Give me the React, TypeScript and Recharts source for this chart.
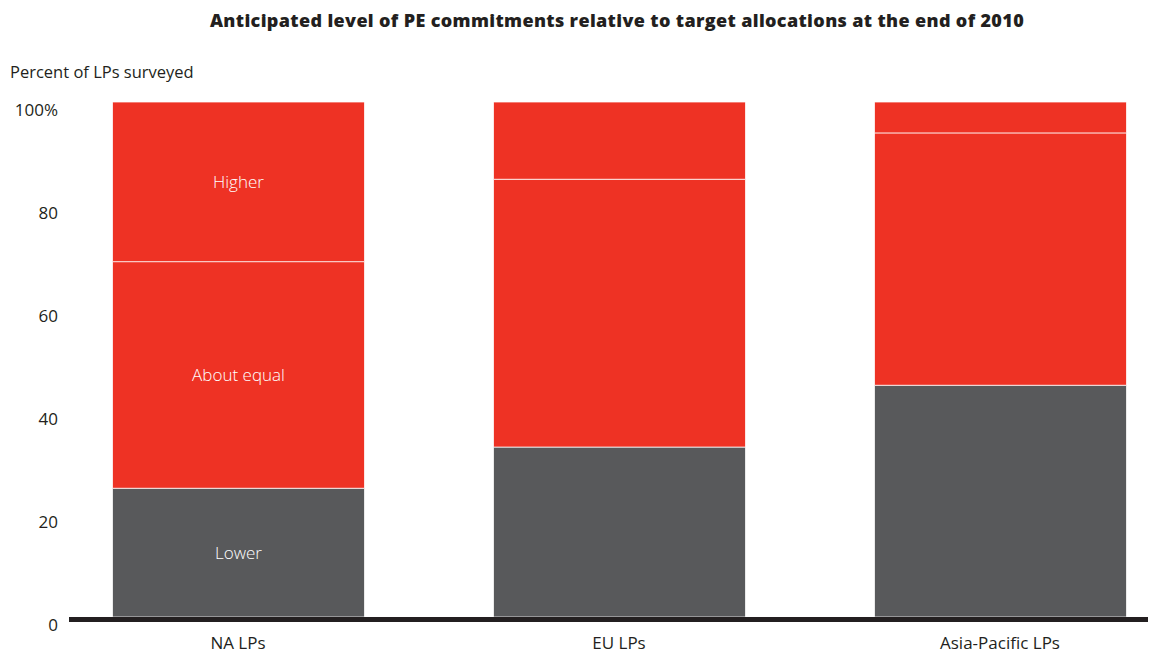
import { BarChart, Bar, XAxis, YAxis, LabelList } from "recharts";

const TITLE = "Anticipated level of PE commitments relative to target allocations at the end of 2010";
const Y_TITLE = "Percent of LPs surveyed";

const categories = ["NA LPs", "EU LPs", "Asia-Pacific LPs"];
const lower = [25, 33, 45];
const aboutEqual = [44, 52, 49];
const higher = [31, 15, 6];
const lowerLabels = ["Lower", "", ""];
const equalLabels = ["About equal", "", ""];
const higherLabels = ["Higher", "", ""];
const yTicks = [0, 20, 40, 60, 80, 100];

const RED = "#ee3224";
const GRAY = "#58595b";
const INK = "#231f20";
const FONT = "'Open Sans', 'Noto Sans', sans-serif";

const data = categories.map((name, i) => ({
  name,
  lower: lower[i],
  aboutEqual: aboutEqual[i],
  higher: higher[i],
  lowerLabel: lowerLabels[i],
  equalLabel: equalLabels[i],
  higherLabel: higherLabels[i],
}));

const labelStyle = { fill: "#fff", fontSize: 17, fontFamily: FONT, fontWeight: 300 };

export default function App() {
  return (
    <div style={{ position: "relative", width: 1148, height: 650, fontFamily: FONT, color: INK }}>
      <div
        style={{
          position: "absolute",
          top: 0,
          left: 0,
          width: 1218,
          textAlign: "center",
          fontWeight: 800,
          fontSize: 18,
          letterSpacing: 0.35,
        }}
      >
        {TITLE}
      </div>
      <div style={{ position: "absolute", top: 52, left: 2, fontSize: 16.5, fontWeight: 400 }}>
        {Y_TITLE}
      </div>
      <BarChart
        width={1148}
        height={650}
        data={data}
        margin={{ top: 94, right: 0, bottom: 0, left: 0 }}
        barSize={252}
        style={{ position: "absolute", top: 0, left: 0 }}
      >
        <YAxis
          width={61}
          domain={[0, 100]}
          ticks={yTicks}
          interval={0}
          axisLine={false}
          tickLine={false}
          tickMargin={5}
          tickFormatter={(v: number) => (v === 100 ? "100%" : String(v))}
          tick={{ fill: INK, fontSize: 17, fontFamily: FONT, dy: 8 }}
        />
        <XAxis
          dataKey="name"
          height={41}
          padding={{ left: -21.5, right: -34.5 }}
          axisLine={{ stroke: INK, strokeWidth: 5, transform: "translate(0,2.5)" }}
          tickLine={false}
          tickMargin={14}
          tick={{ fill: INK, fontSize: 17, fontFamily: FONT }}
        />
        <Bar dataKey="lower" stackId="a" fill={GRAY} stroke="rgba(255,255,255,0.75)" strokeWidth={1} isAnimationActive={false}>
          <LabelList dataKey="lowerLabel" position="center" style={labelStyle} />
        </Bar>
        <Bar dataKey="aboutEqual" stackId="a" fill={RED} stroke="rgba(255,255,255,0.75)" strokeWidth={1} isAnimationActive={false}>
          <LabelList dataKey="equalLabel" position="center" style={labelStyle} />
        </Bar>
        <Bar dataKey="higher" stackId="a" fill={RED} stroke="rgba(255,255,255,0.75)" strokeWidth={1} isAnimationActive={false}>
          <LabelList dataKey="higherLabel" position="center" style={labelStyle} />
        </Bar>
      </BarChart>
    </div>
  );
}
